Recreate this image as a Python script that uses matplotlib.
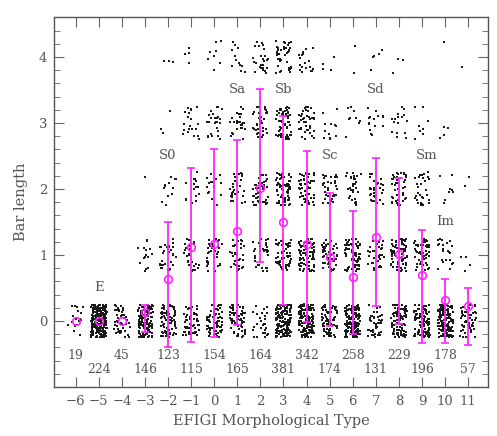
import numpy as np
import matplotlib
matplotlib.use("Agg")
import matplotlib.pyplot as plt
from matplotlib.ticker import MultipleLocator

# EFIGI types and number of galaxies per type
types = np.arange(-6, 12)
n_gal = [19, 224, 45, 146, 123, 115, 154, 165, 164, 381, 342, 174, 258, 131, 229, 196, 178, 57]

# galaxies per bar length (0..4) for each type
bar0 = [19, 224, 45, 129, 75, 51, 68, 62, 29, 146, 149, 75, 144, 46, 93, 107, 143, 50]
bar1 = [0, 0, 0, 16, 30, 25, 35, 35, 30, 60, 80, 48, 72, 35, 75, 50, 22, 4]
bar2 = [0, 0, 0, 1, 12, 15, 17, 30, 40, 70, 55, 35, 30, 30, 40, 30, 8, 2]
bar3 = [0, 0, 0, 0, 3, 20, 25, 26, 40, 65, 40, 12, 10, 15, 18, 9, 4, 0]
bar4 = [0, 0, 0, 0, 3, 4, 9, 12, 25, 40, 18, 4, 2, 5, 3, 0, 1, 1]

# mean bar length and error bar range per type
bar_mean = [0.0, 0.0, 0.0, 0.13, 0.635, 1.125, 1.165, 1.36, 2.02, 1.50, 1.16, 0.975, 0.665, 1.275, 1.01, 0.70, 0.325, 0.225]
bar_lo = [0.0, 0.0, 0.0, -0.16, -0.39, -0.325, -0.25, -0.06, 0.9, 0.235, -0.015, -0.075, -0.2, 0.225, -0.05, -0.34, -0.34, -0.365]
bar_hi = [0.0, 0.0, 0.0, 0.24, 1.5, 2.31, 2.6, 2.74, 3.51, 3.11, 2.58, 1.94, 1.67, 2.47, 2.16, 1.385, 0.64, 0.5]

class_names = ["E", "S0", "Sa", "Sb", "Sc", "Sd", "Sm", "Im"]
class_x = [-5, -2, 1, 3, 5, 7, 9.2, 10]
class_y = [0.5, 2.5, 3.5, 3.5, 2.5, 3.5, 2.5, 1.5]


def spread(k, salt):
    # deterministic scatter in [0, 1) used only for jittering the points
    v = np.sin(k * 12.9898 + salt * 78.233) * 43758.5453
    return v - np.floor(v)


grey = "#555555"
mag = "#ff22ff"
plt.rcParams['font.family'] = ['DejaVu Serif']

fig = plt.figure(figsize=(4.97, 4.36), dpi=100)
ax = fig.add_axes([0.1093, 0.1124, 0.8720, 0.8479])

# jittered points
px, py = [], []
k = 1
for level, counts in enumerate([bar0, bar1, bar2, bar3, bar4]):
    for t, c in zip(types, counts):
        for j in range(c):
            px.append(t + (spread(k, 1) - 0.5) * 0.68)
            py.append(level + (spread(k, 2) - 0.5) * 0.5)
            k += 1
ax.scatter(px, py, s=0.9, c="#1a1a1a", marker="s", linewidths=0)

# error bars
mean = np.array(bar_mean)
lo = np.array(bar_lo)
hi = np.array(bar_hi)
has_err = hi > lo
ax.errorbar(types[has_err], mean[has_err], yerr=[mean[has_err] - lo[has_err], hi[has_err] - mean[has_err]],
            fmt="none", ecolor=mag, elinewidth=1.3, capsize=3, capthick=1.2)
ax.plot(types, mean, "o", mfc="none", mec=mag, ms=5.5, mew=1.2, ls="none")

# counts under each type
for i, (t, n) in enumerate(zip(types, n_gal)):
    yy = -0.52 if i % 2 == 0 else -0.74
    ax.text(t, yy, str(n), ha="center", va="center", fontsize=9, color=grey)

for name, x, y in zip(class_names, class_x, class_y):
    ax.text(x, y, name, ha="center", va="center", fontsize=9.5, color=grey)

ax.set_xlim(-6.93, 11.85)
ax.set_ylim(-1, 4.6)
ax.set_xticks(types)
ax.set_xticklabels([str(t).replace("-", "\u2212") for t in types])
ax.yaxis.set_major_locator(MultipleLocator(1))
ax.yaxis.set_minor_locator(MultipleLocator(0.2))
ax.set_yticks([0, 1, 2, 3, 4])
ax.tick_params(axis="both", which="both", direction="in", top=True, right=True,
               colors="#666666", labelcolor=grey, labelsize=9.5)
ax.tick_params(axis="x", which="major", length=7, pad=6)
ax.tick_params(axis="y", which="major", length=7, pad=5)
ax.tick_params(axis="y", which="minor", length=4)
for s in ax.spines.values():
    s.set_color("#555555")
    s.set_linewidth(1.0)

ax.set_xlabel("EFIGI Morphological Type", fontsize=10.5, color=grey, labelpad=4)
ax.set_ylabel("Bar length", fontsize=10.5, color=grey, labelpad=8)

fig.savefig("out.png", dpi=100)
